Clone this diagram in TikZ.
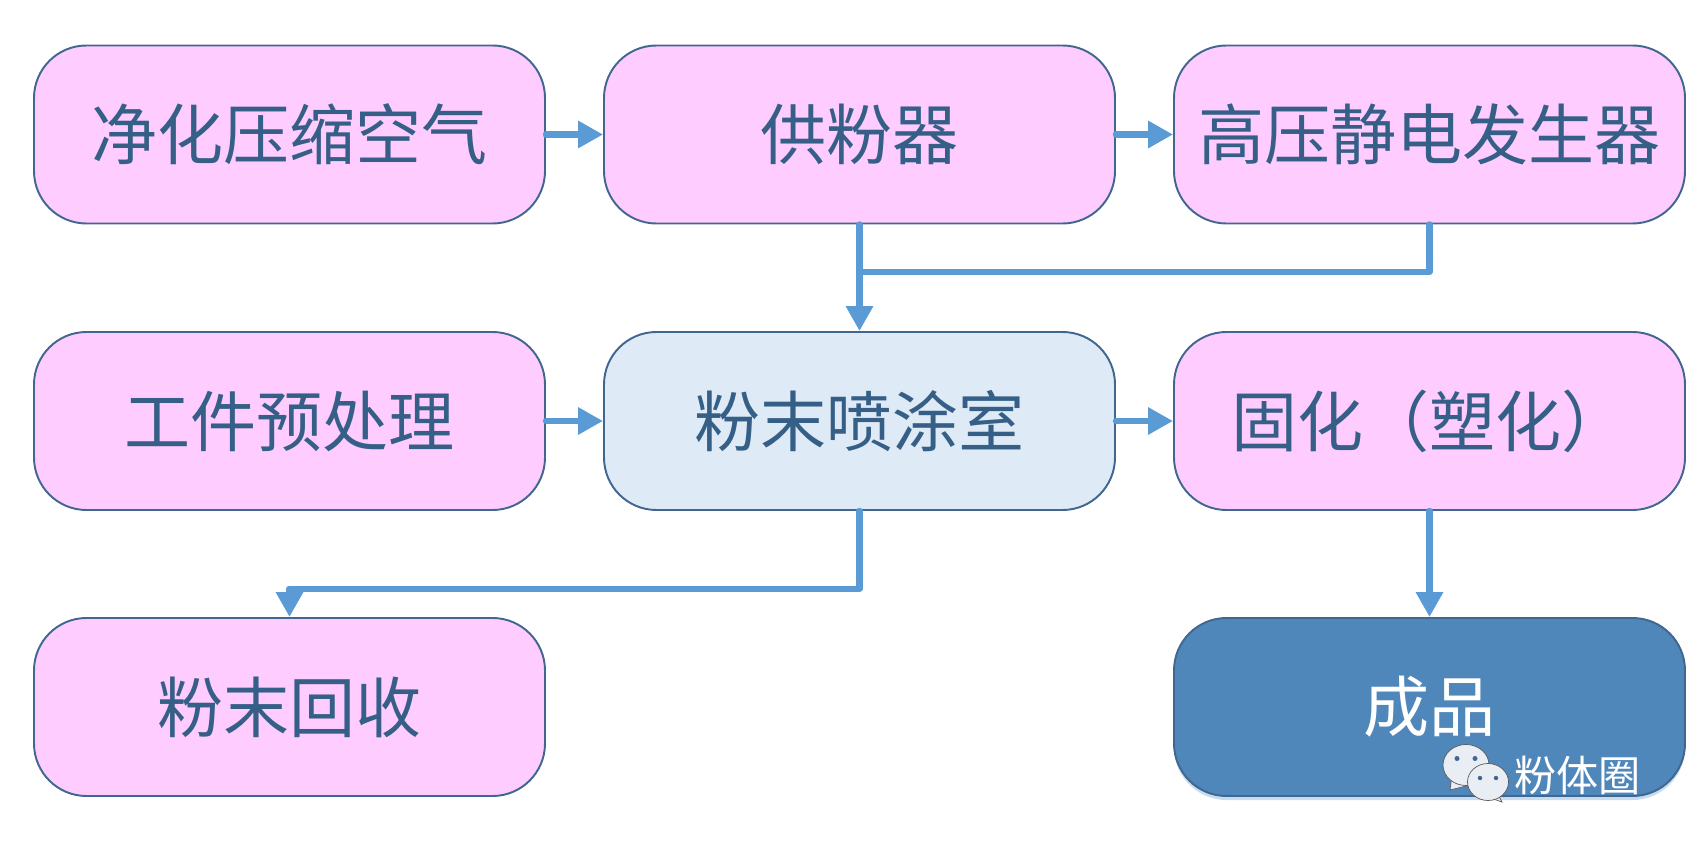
\documentclass[tikz,border=0pt]{standalone}
\usepackage{fontspec}
\setmainfont{Noto Sans CJK SC}
\usepackage{tikz}
\usetikzlibrary{arrows.meta,shadows}
\definecolor{boxline}{HTML}{41668F}
\definecolor{boxpink}{HTML}{FFCCFF}
\definecolor{boxblue}{HTML}{DEEAF6}
\definecolor{boxdark}{HTML}{4F87BB}
\definecolor{flowline}{HTML}{5B9BD5}
\definecolor{boxtext}{HTML}{355F86}
\definecolor{iconface}{HTML}{E9EEF4}

\begin{document}
\begin{tikzpicture}[
		scale=1,
		every node/.style={rectangle, draw=boxline, line width=1.1pt, rounded corners=1.05cm,
			minimum width=10.22cm, minimum height=3.56cm, inner sep=0pt,
			fill=boxpink, text=boxtext, font=\fontsize{37.6}{46}\selectfont},
		flow/.style={draw=flowline, line width=3.6pt, line cap=round, line join=round,
			-{Triangle[length=0.5cm, width=0.52cm]}},
		feed/.style={draw=flowline, line width=3.6pt, line cap=round, line join=round},
		mark_text/.style={draw=none, fill=none, minimum width=0cm, minimum height=0cm, rounded corners=0cm,
			text=white, font=\fontsize{24}{29}\selectfont},
		bubble/.style={draw=black!65, line width=0.4pt, fill=iconface}
	]
  \useasboundingbox (0cm, 0cm) rectangle (33.94cm, 17.02cm);
  \node (air) at (5.79cm, 14.33cm) {净化压缩空气};
  \node (feeder) at (17.19cm, 14.33cm) {供粉器};
  \node (hv) at (28.59cm, 14.33cm) {高压静电发生器};
  \node (pre) at (5.79cm, 8.6cm) {工件预处理};
  \node (room) [fill=boxblue] at (17.19cm, 8.6cm) {粉末喷涂室};
  \node (cure) at (28.59cm, 8.6cm) {固化（塑化）};
  \node (recover) at (5.79cm, 2.88cm) {粉末回收};
  \node (product) [fill=boxdark, text=white, drop shadow={shadow xshift=0cm, shadow yshift=-0.08cm, fill=flowline, opacity=0.35}] at (28.59cm, 2.88cm) {成品};
  \coordinate (merge) at (17.19cm, 11.58cm);
  \coordinate (turn) at (17.19cm, 5.24cm);
  \coordinate (drop) at (5.79cm, 5.24cm);
  \draw [flow] (air) -- (feeder);
  \draw [flow] (feeder) -- (hv);
  \draw [flow] (pre) -- (room);
  \draw [flow] (room) -- (cure);
  \draw [flow] (cure) -- (product);
  \draw [flow] (feeder) -- (room);
  \draw [feed] (hv.south) |- (merge);
  \draw [feed] (room.south) -- (turn) -- (drop);
  \draw [flow] (drop) -- (recover);
  % watermark
  \draw [bubble] (29.04cm, 1.52cm) -- (29.0cm, 1.22cm) -- (29.4cm, 1.32cm) -- cycle;
  \draw [bubble] (29.32cm, 1.72cm) ellipse (0.46cm and 0.41cm);
  \fill [boxline] (29.14cm, 1.85cm) circle (0.05cm) (29.5cm, 1.85cm) circle (0.05cm);
  \draw [bubble] (29.75cm, 1.08cm) -- (30.04cm, 0.98cm) -- (29.95cm, 1.15cm) -- cycle;
  \draw [bubble] (29.76cm, 1.38cm) ellipse (0.41cm and 0.37cm);
  \fill [boxline] (29.6cm, 1.46cm) circle (0.045cm) (29.92cm, 1.46cm) circle (0.045cm);
  \node (mark) [mark_text] at (31.55cm, 1.52cm) {粉体圈};
\end{tikzpicture}
\end{document}
